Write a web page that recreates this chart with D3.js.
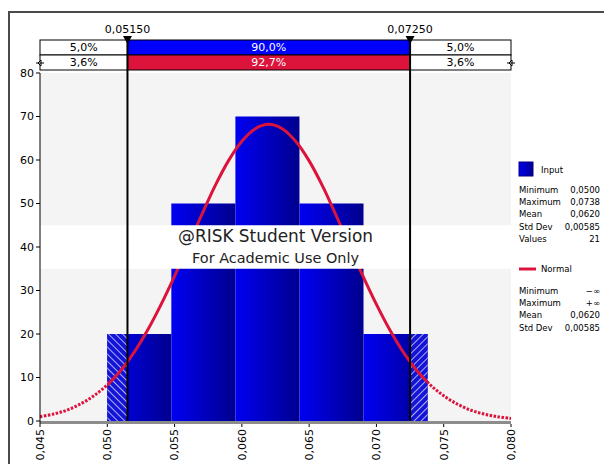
<!DOCTYPE html>
<html>
<head>
<meta charset="utf-8">
<script src="https://cdn.jsdelivr.net/npm/d3@7"></script>
<style>
  html, body { margin: 0; padding: 0; background: #fff; }
  svg { display: block; font-family: "DejaVu Sans", Verdana, sans-serif; }
</style>
</head>
<body>
<div id="chart"></div>
<script>
// histogram bins (density)
const binEdges = [0.0500, 0.05476, 0.05952, 0.06428, 0.06904, 0.0738];
const binDensity = [20, 50, 70, 50, 20];

// fitted normal curve
const curveX = [0.045, 0.046, 0.047, 0.048, 0.049, 0.050, 0.051, 0.052, 0.053, 0.054, 0.055, 0.056,
  0.057, 0.058, 0.059, 0.060, 0.061, 0.062, 0.063, 0.064, 0.065, 0.066, 0.067, 0.068,
  0.069, 0.070, 0.071, 0.072, 0.073, 0.074, 0.075, 0.076, 0.077, 0.078, 0.079, 0.080];
const curveY = [1.0, 1.6, 2.5, 3.9, 5.8, 8.3, 11.6, 15.8, 20.9, 26.8, 33.3, 40.3,
  47.3, 54.0, 59.8, 64.3, 67.2, 68.2, 67.2, 64.3, 59.8, 54.0, 47.3, 40.3,
  33.3, 26.8, 20.9, 15.8, 11.6, 8.3, 5.8, 3.9, 2.5, 1.6, 1.0, 0.6];

const markers = [0.0515, 0.0725];
const markerLabels = ["0,05150", "0,07250"];
const inputPct = ["5,0%", "90,0%", "5,0%"];
const normalPct = ["3,6%", "92,7%", "3,6%"];

const xTicks = [0.045, 0.050, 0.055, 0.060, 0.065, 0.070, 0.075, 0.080];
const yTicks = [0, 10, 20, 30, 40, 50, 60, 70, 80];

const inputStats = [["Minimum", "0,0500"], ["Maximum", "0,0738"], ["Mean", "0,0620"], ["Std Dev", "0,00585"], ["Values", "21"]];
const normalStats = [["Minimum", "\u2212\u221e"], ["Maximum", "+\u221e"], ["Mean", "0,0620"], ["Std Dev", "0,00585"]];

const width = 604, height = 464;
const plot = { left: 40, right: 511, top: 73, bottom: 421 };
const fmt = d => d3.format(".3f")(d).replace(".", ",");

const svg = d3.select('#chart').append('svg')
  .attr('width', width)
  .attr('height', height);

const x = d3.scaleLinear().domain([0.045, 0.080]).range([plot.left, plot.right]);
const y = d3.scaleLinear().domain([0, 80]).range([plot.bottom, plot.top]);

const defs = svg.append('defs');
const grad = defs.append('linearGradient').attr('id', 'barGrad')
  .attr('x1', 0).attr('x2', 1).attr('y1', 0).attr('y2', 0);
grad.append('stop').attr('offset', '0%').attr('stop-color', '#0000f2');
grad.append('stop').attr('offset', '100%').attr('stop-color', '#00008e');

// hatch patterns for the tails outside the markers
const hatch = (id, angle) => {
  const p = defs.append('pattern').attr('id', id)
    .attr('patternUnits', 'userSpaceOnUse')
    .attr('width', 5).attr('height', 5)
    .attr('patternTransform', `rotate(${angle})`);
  p.append('rect').attr('width', 5).attr('height', 5).attr('fill', '#1414d6');
  p.append('line').attr('x1', 0).attr('y1', 0).attr('x2', 0).attr('y2', 5)
    .attr('stroke', '#d6d6ff').attr('stroke-width', 1.6);
};
hatch('hatchL', -45);
hatch('hatchR', 45);

// outer frame
svg.append('path')
  .attr('d', `M9,${height + 5} V12 H${width + 5}`)
  .attr('fill', 'none').attr('stroke', '#4a4a4a').attr('stroke-width', 2);

// plot background
svg.append('rect')
  .attr('x', plot.left).attr('y', plot.top)
  .attr('width', plot.right - plot.left).attr('height', plot.bottom - plot.top)
  .attr('fill', '#f4f4f4');

// bars
const bins = binDensity.map((v, i) => ({ x0: binEdges[i], x1: binEdges[i + 1], v }));
svg.append('g').selectAll('rect')
  .data(bins)
  .enter().append('rect')
  .attr('x', d => x(d.x0))
  .attr('y', d => y(d.v))
  .attr('width', d => x(d.x1) - x(d.x0))
  .attr('height', d => y(0) - y(d.v))
  .attr('fill', 'url(#barGrad)');

// hatched tails
const first = bins[0], last = bins[bins.length - 1];
svg.append('rect')
  .attr('x', x(first.x0)).attr('y', y(first.v))
  .attr('width', x(markers[0]) - x(first.x0)).attr('height', y(0) - y(first.v))
  .attr('fill', 'url(#hatchL)');
svg.append('rect')
  .attr('x', x(markers[1])).attr('y', y(last.v))
  .attr('width', x(last.x1) - x(markers[1])).attr('height', y(0) - y(last.v))
  .attr('fill', 'url(#hatchR)');

// normal curve: solid inside data range, dotted outside
const pts = curveX.map((d, i) => [d, curveY[i]]);
const line = d3.line().x(d => x(d[0])).y(d => y(d[1])).curve(d3.curveCatmullRom);
defs.append('clipPath').attr('id', 'clipIn').append('rect')
  .attr('x', x(binEdges[0])).attr('y', 0)
  .attr('width', x(binEdges[binEdges.length - 1]) - x(binEdges[0])).attr('height', height);
const clipOut = defs.append('clipPath').attr('id', 'clipOut');
clipOut.append('rect').attr('x', 0).attr('y', 0).attr('width', x(binEdges[0])).attr('height', height);
clipOut.append('rect').attr('x', x(binEdges[binEdges.length - 1])).attr('y', 0)
  .attr('width', width).attr('height', height);

svg.append('path').datum(pts)
  .attr('d', line).attr('fill', 'none')
  .attr('stroke', '#dc143c').attr('stroke-width', 3)
  .attr('clip-path', 'url(#clipIn)');
svg.append('path').datum(pts)
  .attr('d', line).attr('fill', 'none')
  .attr('stroke', '#dc143c').attr('stroke-width', 3)
  .attr('stroke-dasharray', '2.5,1.5')
  .attr('clip-path', 'url(#clipOut)');

// watermark band
svg.append('rect')
  .attr('x', plot.left).attr('y', y(45))
  .attr('width', plot.right - plot.left).attr('height', y(35) - y(45))
  .attr('fill', '#fff');
const cx = (plot.left + plot.right) / 2;
svg.append('text').attr('x', cx).attr('y', 242)
  .attr('text-anchor', 'middle').attr('font-size', 17)
  .attr('textLength', 195).attr('lengthAdjust', 'spacingAndGlyphs')
  .attr('fill', '#222').text('@RISK Student Version');
svg.append('text').attr('x', cx).attr('y', 263)
  .attr('text-anchor', 'middle').attr('font-size', 14.5)
  .attr('textLength', 167).attr('lengthAdjust', 'spacingAndGlyphs')
  .attr('fill', '#222').text('For Academic Use Only');

// x axis baseline and ticks
svg.append('line')
  .attr('x1', plot.left).attr('x2', plot.right)
  .attr('y1', plot.bottom + 1.5).attr('y2', plot.bottom + 1.5)
  .attr('stroke', '#8c8c8c').attr('stroke-width', 3);
const xAxis = svg.append('g');
xAxis.selectAll('line').data(xTicks).enter().append('line')
  .attr('x1', d => x(d)).attr('x2', d => x(d))
  .attr('y1', plot.bottom + 3).attr('y2', plot.bottom + 6)
  .attr('stroke', '#000');
xAxis.selectAll('text').data(xTicks).enter().append('text')
  .attr('transform', d => `translate(${x(d)},${plot.bottom + 8}) rotate(-90)`)
  .attr('text-anchor', 'end').attr('dy', '0.35em')
  .attr('font-size', 11).text(fmt);

// y axis
const yAxis = svg.append('g');
yAxis.append('line')
  .attr('x1', plot.left).attr('x2', plot.left)
  .attr('y1', plot.top).attr('y2', plot.bottom + 3)
  .attr('stroke', '#000');
yAxis.selectAll('line.tick').data(yTicks).enter().append('line')
  .attr('class', 'tick')
  .attr('x1', plot.left - 4).attr('x2', plot.left)
  .attr('y1', d => y(d)).attr('y2', d => y(d))
  .attr('stroke', '#000');
yAxis.selectAll('text').data(yTicks).enter().append('text')
  .attr('x', plot.left - 6).attr('y', d => y(d))
  .attr('dy', '0.35em').attr('text-anchor', 'end')
  .attr('font-size', 11).text(d => d);

// header boxes with percentages
const cells = [plot.left, x(markers[0]), x(markers[1]), plot.right];
const rows = [{ y: 40, h: 15, vals: inputPct, fill: '#0000ff' }, { y: 55, h: 15, vals: normalPct, fill: '#dc143c' }];
rows.forEach(r => {
  r.vals.forEach((v, i) => {
    svg.append('rect')
      .attr('x', cells[i]).attr('y', r.y)
      .attr('width', cells[i + 1] - cells[i]).attr('height', r.h)
      .attr('fill', i === 1 ? r.fill : '#fff')
      .attr('stroke', '#000').attr('stroke-width', 1);
    svg.append('text')
      .attr('x', (cells[i] + cells[i + 1]) / 2).attr('y', r.y + r.h / 2)
      .attr('dy', '0.36em').attr('text-anchor', 'middle')
      .attr('font-size', 11)
      .attr('fill', i === 1 ? '#fff' : '#000')
      .text(v);
  });
});

// end markers on the normal row
[plot.left, plot.right].forEach(px => {
  svg.append('path')
    .attr('d', `M${px - 4},63 H${px + 4} M${px - 2},63 L${px + 1},60 L${px + 1},66 Z`)
    .attr('fill', '#fff').attr('stroke', '#000').attr('stroke-width', 1);
});

// marker lines, triangles, labels
markers.forEach((m, i) => {
  const mx = x(m);
  svg.append('line')
    .attr('x1', mx).attr('x2', mx)
    .attr('y1', 40).attr('y2', plot.bottom)
    .attr('stroke', '#000').attr('stroke-width', 2);
  svg.append('path')
    .attr('d', `M${mx - 4.5},36 H${mx + 4.5} L${mx},44 Z`)
    .attr('fill', '#000');
  svg.append('text')
    .attr('x', mx).attr('y', 33)
    .attr('text-anchor', 'middle').attr('font-size', 11)
    .text(markerLabels[i]);
});

// legend
const lg = svg.append('g').attr('font-size', 8.5);
lg.append('rect')
  .attr('x', 519).attr('y', 162).attr('width', 14).attr('height', 14)
  .attr('fill', 'url(#barGrad)').attr('stroke', '#000080');
lg.append('text').attr('x', 541).attr('y', 173).text('Input');
inputStats.forEach((s, i) => {
  lg.append('text').attr('x', 519).attr('y', 193 + i * 12.2).text(s[0]);
  lg.append('text').attr('x', 600).attr('y', 193 + i * 12.2)
    .attr('text-anchor', 'end').text(s[1]);
});
lg.append('line')
  .attr('x1', 519).attr('x2', 536).attr('y1', 269).attr('y2', 269)
  .attr('stroke', '#dc143c').attr('stroke-width', 3);
lg.append('text').attr('x', 541).attr('y', 272).text('Normal');
normalStats.forEach((s, i) => {
  lg.append('text').attr('x', 519).attr('y', 294 + i * 12.2).text(s[0]);
  lg.append('text').attr('x', 600).attr('y', 294 + i * 12.2)
    .attr('text-anchor', 'end').text(s[1]);
});
</script>
</body>
</html>
